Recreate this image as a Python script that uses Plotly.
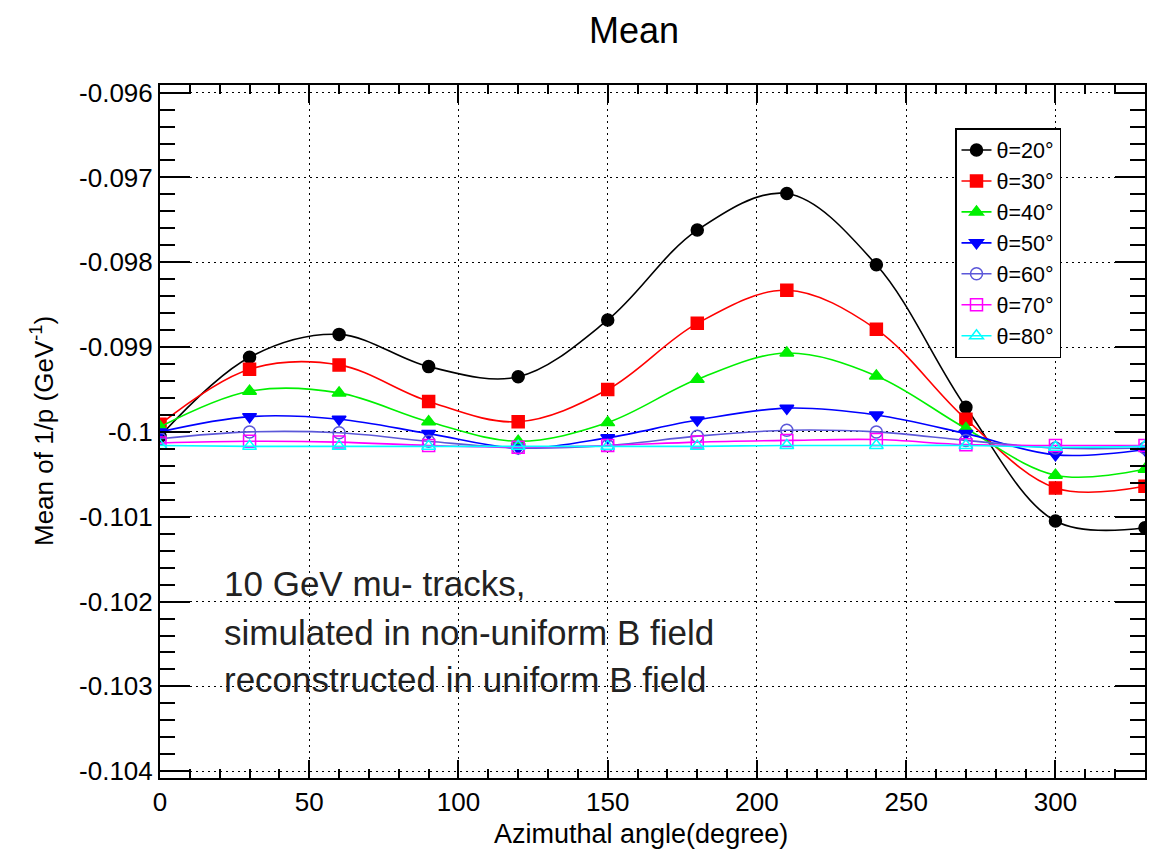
import plotly.graph_objects as go

# ---- data ----
phi = [0, 30, 60, 90, 120, 150, 180, 210, 240, 270, 300, 330]
theta20 = [-0.10005, -0.09912, -0.09885, -0.09923, -0.09935, -0.09868, -0.09762, -0.09719, -0.09803, -0.09971, -0.10105, -0.10113]
theta30 = [-0.09991, -0.09926, -0.09921, -0.09964, -0.09988, -0.09950, -0.09872, -0.09833, -0.09879, -0.09985, -0.10066, -0.10064]
theta40 = [-0.09994, -0.09952, -0.09954, -0.09988, -0.10011, -0.09989, -0.09938, -0.09907, -0.09934, -0.09996, -0.10051, -0.10044]
theta50 = [-0.10000, -0.09982, -0.09985, -0.10002, -0.10019, -0.10007, -0.09986, -0.09972, -0.09980, -0.10002, -0.10027, -0.10021]
theta60 = [-0.10008, -0.10000, -0.10001, -0.10011, -0.10019, -0.10016, -0.10005, -0.09998, -0.10000, -0.10010, -0.10019, -0.10019]
theta70 = [-0.10013, -0.10011, -0.10012, -0.10016, -0.10018, -0.10016, -0.10012, -0.10010, -0.10009, -0.10015, -0.10016, -0.10016]
theta80 = [-0.10016, -0.10017, -0.10017, -0.10017, -0.10017, -0.10017, -0.10017, -0.10016, -0.10016, -0.10016, -0.10018, -0.10017]

series_names = ["θ=20°", "θ=30°", "θ=40°", "θ=50°", "θ=60°", "θ=70°", "θ=80°"]
series_values = [theta20, theta30, theta40, theta50, theta60, theta70, theta80]

x_tick_vals = [0, 50, 100, 150, 200, 250, 300]
x_tick_labels = ["0", "50", "100", "150", "200", "250", "300"]
y_tick_vals = [-0.096, -0.097, -0.098, -0.099, -0.100, -0.101, -0.102, -0.103, -0.104]
y_tick_labels = ["-0.096", "-0.097", "-0.098", "-0.099", "-0.1", "-0.101", "-0.102", "-0.103", "-0.104"]

title_text = "Mean"
x_title = "Azimuthal angle(degree)"
y_title = "Mean of 1/p (GeV<sup>-1</sup>)"
note_lines = ["10 GeV mu- tracks,", "simulated in non-uniform B field", "reconstructed in uniform B field"]

# ---- styles ----
colors = ["#000000", "#ff0000", "#00f000", "#0000ff", "#5b57d9", "#ff00ff", "#00ffff"]
symbols = ["circle", "square", "triangle-up", "triangle-down", "circle-open", "square-open", "triangle-up-open"]
sizes = [12, 12, 12, 12, 12, 12, 12]
FONT = "Liberation Sans, Arial, Helvetica, sans-serif"

fig = go.Figure()
for name, vals, c, s, sz in zip(series_names, series_values, colors, symbols, sizes):
    fig.add_trace(go.Scatter(
        x=phi, y=vals, name=name, mode="lines+markers",
        line=dict(color=c, width=1.6, shape="spline", smoothing=1.0),
        marker=dict(color=c, symbol=s, size=sz, line=dict(color=c, width=1.5)),
    ))

# page body has an 8px margin: lay out the figure in page pixel coordinates minus 8
OFF = 8
PAGE_W, PAGE_H = 1157, 854
W, H = PAGE_W - OFF, PAGE_H - OFF
# frame in page coordinates
FL, FR, FT, FB = 160, 1145, 85, 778
L = FL - OFF
R = W - (FR - OFF)
T = FT - OFF
B = H - (FB - OFF)
pw = W - L - R
ph = H - T - B

def px_x(px):
    return (px - FL) / pw

def px_y(py):
    return (FB - py) / ph

axis_common = dict(
    showline=True, linecolor="black", linewidth=2, mirror="allticks",
    ticks="inside", tickcolor="black", tickwidth=1.5,
    showgrid=True, gridcolor="black", gridwidth=1.2, griddash="2px,4px",
    zeroline=False,
    tickfont=dict(family=FONT, size=26, color="black"),
)

fig.update_xaxes(
    range=[0, 330], tickvals=x_tick_vals, ticktext=x_tick_labels,
    ticklen=18,
    minor=dict(ticks="inside", ticklen=9, dtick=10, tick0=0, tickcolor="black", tickwidth=1.5, showgrid=False),
    **axis_common,
)
fig.update_yaxes(
    range=[-0.10408, -0.09591], tickvals=y_tick_vals, ticktext=y_tick_labels,
    ticklen=30,
    minor=dict(ticks="inside", ticklen=15, dtick=0.0002, tick0=-0.1, tickcolor="black", tickwidth=1.5, showgrid=False),
    **axis_common,
)

annotations = [
    dict(text=title_text, x=px_x(634), y=px_y(30), xref="paper", yref="paper",
         showarrow=False, xanchor="center", yanchor="middle",
         font=dict(family=FONT, size=36, color="black")),
    dict(text=x_title, x=px_x(641), y=px_y(834), xref="paper", yref="paper",
         showarrow=False, xanchor="center", yanchor="middle",
         font=dict(family=FONT, size=27, color="black")),
    dict(text=y_title, x=px_x(42), y=px_y(431), xref="paper", yref="paper",
         showarrow=False, xanchor="center", yanchor="middle", textangle=-90,
         font=dict(family=FONT, size=26, color="black")),
]
for line, cy in zip(note_lines, [583, 632, 679]):
    annotations.append(dict(text=line, x=px_x(222), y=px_y(cy), xref="paper", yref="paper",
                            showarrow=False, xanchor="left", yanchor="middle",
                            font=dict(family=FONT, size=35, color="#222222")))

fig.update_layout(
    width=W, height=H,
    margin=dict(l=L, r=R, t=T, b=B, autoexpand=False),
    paper_bgcolor="white", plot_bgcolor="white",
    showlegend=True,
    legend=dict(x=px_x(955), y=px_y(128), xanchor="left", yanchor="top",
                bgcolor="white", bordercolor="black", borderwidth=1.5,
                font=dict(family=FONT, size=21.5, color="black"),
                itemwidth=30, tracegroupgap=0),
    annotations=annotations,
)

fig.write_html("out.html")
